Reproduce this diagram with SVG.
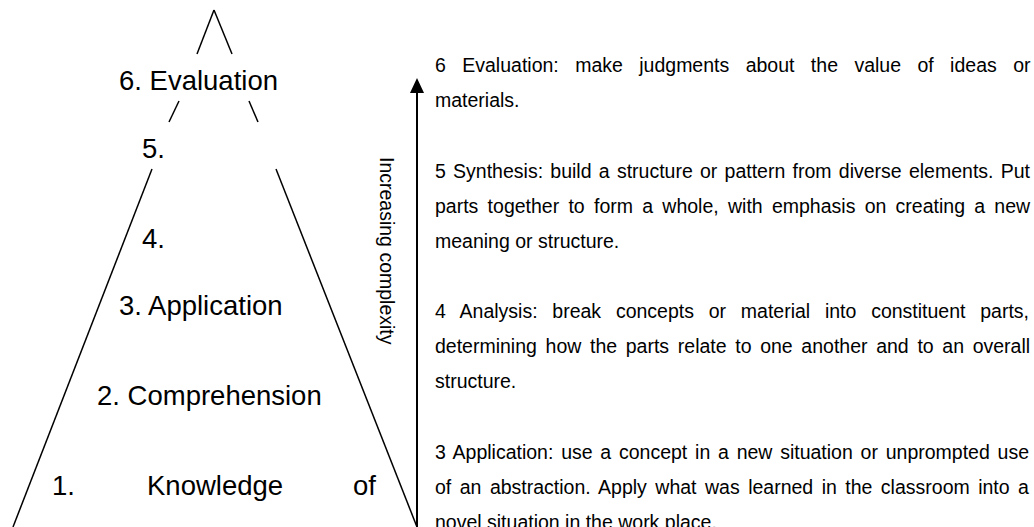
<svg xmlns="http://www.w3.org/2000/svg" width="1034" height="527" viewBox="0 0 1034 527">
<style>
.edge{stroke:#000;stroke-width:1.5;fill:none}
.lvl{font-family:"Liberation Sans",Arial,sans-serif;font-size:27.5px;fill:#000}
.desc{font-family:"Liberation Sans",Arial,sans-serif;font-size:19.5px;fill:#000}
</style>
<defs>
<marker id="ah" viewBox="0 0 15 14" refX="7" refY="7" markerWidth="15" markerHeight="14" markerUnits="userSpaceOnUse" orient="auto">
<path d="M0 0 L15 7 L0 14 Z" fill="#000"/>
</marker>
</defs>
<rect width="1034" height="527" fill="#fff"/>
<g id="pyramid-outline" class="edge">
<line x1="214" y1="10" x2="197" y2="54"/>
<line x1="179" y1="101" x2="169" y2="122"/>
<line x1="152" y1="169" x2="13" y2="527"/>
<line x1="214" y1="10" x2="232" y2="54"/>
<line x1="249" y1="101" x2="258" y2="122"/>
<line x1="276" y1="169" x2="417" y2="527"/>
</g>
<g id="level6"><text class="lvl" x="119" y="90">6. Evaluation</text></g>
<g id="level5"><text class="lvl" x="142" y="158">5.</text></g>
<g id="level4"><text class="lvl" x="142" y="248">4.</text></g>
<g id="level3"><text class="lvl" x="119" y="315">3. Application</text></g>
<g id="level2"><text class="lvl" x="97" y="405">2. Comprehension</text></g>
<g id="level1"><text class="lvl" y="495"><tspan x="52">1.</tspan><tspan x="147">Knowledge</tspan><tspan x="353">of</tspan></text></g>
<g id="connectors">
<line x1="417" y1="527" x2="417" y2="86" stroke="#000" stroke-width="2" marker-end="url(#ah)"/>
</g>
<g id="axis-label"><text class="desc" transform="translate(380,157) rotate(90)">Increasing complexity</text></g>
<g id="desc6">
<text class="desc" x="435" y="72" word-spacing="11">6 Evaluation: make judgments about the value of ideas or</text>
<text class="desc" x="435" y="107">materials.</text>
</g>
<g id="desc5">
<text class="desc" x="435" y="177.5" word-spacing="1.84">5 Synthesis: build a structure or pattern from diverse elements. Put</text>
<text class="desc" x="435" y="212.6" word-spacing="3.85">parts together to form a whole, with emphasis on creating a new</text>
<text class="desc" x="435" y="247.8">meaning or structure.</text>
</g>
<g id="desc4">
<text class="desc" x="435" y="318" word-spacing="9.35">4 Analysis: break concepts or material into constituent parts,</text>
<text class="desc" x="435" y="353" word-spacing="3.25">determining how the parts relate to one another and to an overall</text>
<text class="desc" x="435" y="388">structure.</text>
</g>
<g id="desc3">
<text class="desc" x="435" y="458.7" word-spacing="2.36">3 Application: use a concept in a new situation or unprompted use</text>
<text class="desc" x="435" y="493.8" word-spacing="3.05">of an abstraction. Apply what was learned in the classroom into a</text>
<text class="desc" x="435" y="529">novel situation in the work place.</text>
</g>
</svg>
